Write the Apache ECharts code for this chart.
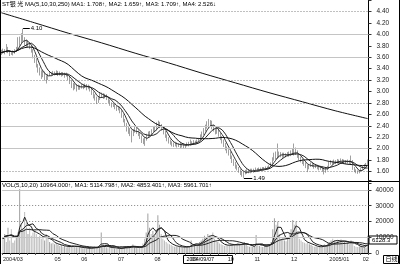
<!DOCTYPE html>
<html><head><meta charset="utf-8">
<script src="https://cdn.jsdelivr.net/npm/echarts@6/dist/echarts.min.js"></script>
<style>html,body{margin:0;padding:0;background:#fff}#c{width:400px;height:264px}</style>
</head><body><div id="c"></div>
<script>
const months = ['2004/03','04','05','06','07','08','09','10','11','12','2005/01','02'];
const monthDays = [10,21,16,22,22,22,22,16,22,23,20,4];
const monthLabelShown = [true,false,true,true,true,true,true,true,true,true,true,true];
// [open, close, low, high]
const ohlc = [
[3.70,3.68,3.64,3.73],[3.68,3.72,3.66,3.75],[3.72,3.69,3.65,3.74],[3.69,3.76,3.68,3.83],[3.76,3.70,3.67,3.78],
[3.70,3.66,3.62,3.72],[3.66,3.69,3.64,3.71],[3.69,3.67,3.63,3.72],[3.67,3.71,3.66,3.74],[3.71,3.74,3.69,3.78],
[3.74,3.90,3.73,3.95],[3.90,3.86,3.80,3.96],[3.86,3.97,3.84,4.02],[3.97,3.92,3.88,4.10],[3.92,3.84,3.80,3.95],
[3.84,3.88,3.78,3.91],[3.88,3.82,3.77,3.90],[3.82,3.79,3.74,3.86],[3.79,3.72,3.68,3.81],[3.72,3.62,3.58,3.74],
[3.62,3.55,3.50,3.64],[3.55,3.45,3.42,3.58],[3.45,3.38,3.33,3.48],[3.38,3.34,3.28,3.42],[3.34,3.28,3.22,3.37],
[3.28,3.33,3.25,3.36],[3.33,3.25,3.19,3.35],[3.25,3.22,3.14,3.28],[3.22,3.29,3.20,3.31],[3.29,3.32,3.27,3.35],
[3.32,3.30,3.27,3.34],
[3.30,3.33,3.28,3.36],[3.33,3.31,3.28,3.35],[3.31,3.34,3.29,3.37],[3.34,3.30,3.27,3.36],[3.30,3.32,3.28,3.35],
[3.32,3.29,3.26,3.34],[3.29,3.31,3.27,3.34],[3.31,3.28,3.24,3.33],[3.28,3.30,3.26,3.33],[3.30,3.24,3.20,3.31],
[3.24,3.18,3.13,3.26],[3.18,3.12,3.06,3.20],[3.12,3.08,3.02,3.15],[3.08,3.11,3.04,3.14],[3.11,3.06,3.00,3.13],
[3.06,3.09,3.03,3.12],
[3.09,3.07,3.03,3.11],[3.07,3.10,3.05,3.13],[3.10,3.08,3.04,3.12],[3.08,3.11,3.06,3.14],[3.11,3.07,3.02,3.13],
[3.07,3.09,3.04,3.12],[3.09,3.04,3.00,3.10],[3.04,2.98,2.94,3.06],[2.98,2.93,2.88,3.00],[2.93,2.89,2.84,2.95],
[2.89,2.84,2.78,2.91],[2.84,2.88,2.80,2.90],[2.88,2.92,2.85,2.99],[2.92,2.95,2.89,2.98],[2.95,2.91,2.87,2.97],
[2.91,2.94,2.88,2.96],[2.94,2.89,2.85,2.95],[2.89,2.84,2.80,2.91],[2.84,2.79,2.75,2.86],[2.79,2.76,2.72,2.81],
[2.76,2.78,2.73,2.80],[2.78,2.73,2.69,2.80],
[2.73,2.70,2.66,2.75],[2.70,2.72,2.67,2.74],[2.72,2.66,2.62,2.73],[2.66,2.58,2.54,2.67],[2.58,2.50,2.46,2.60],
[2.50,2.43,2.38,2.52],[2.43,2.38,2.30,2.45],[2.38,2.33,2.26,2.40],[2.33,2.30,2.22,2.36],[2.30,2.25,2.11,2.32],
[2.25,2.31,2.22,2.34],[2.31,2.35,2.28,2.38],[2.35,2.30,2.26,2.37],[2.30,2.27,2.22,2.32],[2.27,2.21,2.17,2.29],
[2.21,2.16,2.10,2.23],[2.16,2.12,2.08,2.18],[2.12,2.18,2.05,2.20],[2.18,2.23,2.14,2.26],[2.23,2.27,2.20,2.30],
[2.27,2.25,2.21,2.31],[2.25,2.31,2.23,2.34],
[2.31,2.36,2.29,2.39],[2.36,2.34,2.30,2.40],[2.34,2.42,2.32,2.46],[2.42,2.45,2.38,2.49],[2.45,2.40,2.36,2.47],
[2.40,2.36,2.32,2.43],[2.36,2.29,2.25,2.38],[2.29,2.23,2.19,2.31],[2.23,2.18,2.13,2.25],[2.18,2.14,2.09,2.20],
[2.14,2.11,2.07,2.16],[2.11,2.09,2.04,2.13],[2.09,2.07,2.03,2.11],[2.07,2.09,2.04,2.12],[2.09,2.06,2.02,2.11],
[2.06,2.08,2.03,2.10],[2.08,2.05,2.01,2.10],[2.05,2.07,2.02,2.09],[2.07,2.04,2.00,2.09],[2.04,2.06,2.01,2.08],
[2.06,2.09,2.04,2.11],[2.09,2.07,2.04,2.12],
[2.07,2.11,2.05,2.16],[2.11,2.09,2.06,2.13],[2.09,2.12,2.07,2.15],[2.12,2.10,2.07,2.14],[2.10,2.13,2.08,2.16],
[2.13,2.16,2.11,2.19],[2.16,2.22,2.14,2.25],[2.22,2.27,2.19,2.30],[2.27,2.33,2.24,2.36],[2.33,2.38,2.30,2.42],
[2.38,2.44,2.35,2.48],[2.44,2.41,2.36,2.52],[2.41,2.46,2.38,2.50],[2.46,2.40,2.34,2.49],[2.40,2.35,2.30,2.42],
[2.35,2.30,2.25,2.37],[2.30,2.33,2.26,2.36],[2.33,2.26,2.21,2.35],[2.26,2.20,2.15,2.28],[2.20,2.14,2.09,2.22],
[2.14,2.08,2.03,2.16],[2.08,2.02,1.97,2.10],
[2.02,1.97,1.92,2.04],[1.97,1.93,1.88,1.99],[1.93,1.86,1.82,1.95],[1.86,1.80,1.75,1.88],[1.80,1.75,1.70,1.82],
[1.75,1.70,1.65,1.77],[1.70,1.66,1.62,1.72],[1.66,1.62,1.58,1.68],[1.62,1.58,1.54,1.64],[1.58,1.55,1.51,1.61],
[1.55,1.58,1.49,1.60],[1.58,1.61,1.55,1.63],[1.61,1.59,1.56,1.64],[1.59,1.62,1.57,1.64],[1.62,1.60,1.57,1.65],
[1.60,1.63,1.58,1.65],
[1.63,1.61,1.58,1.65],[1.61,1.64,1.59,1.67],[1.64,1.62,1.60,1.66],[1.62,1.65,1.60,1.67],[1.65,1.63,1.61,1.67],
[1.63,1.66,1.62,1.68],[1.66,1.64,1.62,1.68],[1.64,1.67,1.63,1.69],[1.67,1.66,1.63,1.69],[1.66,1.69,1.64,1.71],
[1.69,1.74,1.67,1.76],[1.74,1.82,1.72,1.85],[1.82,1.88,1.79,1.93],[1.88,1.85,1.81,1.95],[1.85,1.92,1.82,2.09],
[1.92,1.88,1.84,1.95],[1.88,1.91,1.85,1.94],[1.91,1.87,1.84,1.93],[1.87,1.90,1.85,1.93],[1.90,1.88,1.85,1.92],
[1.88,1.91,1.86,1.94],[1.91,1.89,1.86,1.95],
[1.89,1.93,1.87,1.97],[1.93,1.96,1.90,2.00],[1.96,1.92,1.88,2.09],[1.92,1.95,1.89,2.02],[1.95,1.88,1.84,1.97],
[1.88,1.84,1.80,1.90],[1.84,1.80,1.76,1.86],[1.80,1.77,1.73,1.82],[1.77,1.74,1.70,1.79],[1.74,1.70,1.66,1.76],
[1.70,1.66,1.59,1.72],[1.66,1.70,1.64,1.73],[1.70,1.73,1.68,1.76],[1.73,1.71,1.68,1.75],[1.71,1.68,1.65,1.73],
[1.68,1.70,1.66,1.72],[1.70,1.67,1.64,1.72],[1.67,1.65,1.62,1.69],[1.65,1.68,1.63,1.70],[1.68,1.64,1.60,1.69],
[1.64,1.60,1.55,1.66],[1.60,1.64,1.58,1.66],[1.64,1.68,1.62,1.70],
[1.68,1.74,1.67,1.77],[1.74,1.77,1.72,1.80],[1.77,1.75,1.72,1.79],[1.75,1.78,1.73,1.81],[1.78,1.76,1.73,1.80],
[1.76,1.79,1.74,1.82],[1.79,1.77,1.74,1.81],[1.77,1.80,1.75,1.83],[1.80,1.77,1.74,1.82],[1.77,1.79,1.75,1.81],
[1.79,1.76,1.73,1.80],[1.76,1.78,1.74,1.81],[1.78,1.75,1.72,1.80],[1.75,1.79,1.73,1.88],[1.79,1.66,1.63,1.80],
[1.66,1.62,1.59,1.68],[1.62,1.60,1.57,1.64],[1.60,1.58,1.56,1.62],[1.58,1.61,1.57,1.63],[1.61,1.64,1.60,1.66],
[1.64,1.68,1.63,1.70],[1.68,1.71,1.66,1.73],[1.71,1.73,1.69,1.75],[1.73,1.78,1.72,1.81]
];
const volume = [
9000,12000,7000,16000,8000,15000,6500,8000,11000,13000,
42000,18000,15000,26000,19000,12000,16000,11000,13000,14000,
12000,10000,11000,9000,10000,8000,12000,9000,7000,6000,6500,
5500,6000,5000,4500,5000,4000,4500,3500,4000,3800,4500,5000,4200,3600,4000,3500,
3200,3000,3500,2800,3000,3300,2600,3800,4200,3600,4000,3500,13000,5000,4200,3500,3000,3600,3800,3200,2800,3000,
2800,2600,3200,3500,4000,4500,3800,4200,3600,5500,4000,3500,3000,3200,3800,6000,9000,13000,25000,16000,12000,14000,
11000,15000,24000,18000,12000,9000,8000,7000,6000,5500,5000,4500,4000,4200,3800,4000,3600,3500,4000,3800,4200,4500,
8000,5000,5500,6000,5000,7000,8000,9000,11000,10000,12000,11000,10000,13000,9000,8000,7000,6000,5500,5000,4500,5000,
5000,4500,5500,6000,5000,5500,6000,5000,5500,6500,7000,5000,4500,4000,4200,3800,
4000,11400,5000,4500,4000,3800,4200,4500,5000,5500,7000,15000,22000,18000,20000,12000,9000,10000,8000,7500,9000,12000,
15000,21000,18000,20000,12000,9000,8000,7000,6500,6000,7000,5500,5000,4500,4000,4200,3800,4000,3500,4500,5500,5000,6000,
7000,8000,9000,8000,7000,8000,6500,8500,7500,7000,6000,6500,5500,8000,6500,4500,4000,3800,4200,4000,
3500,3600,3500,10964
];
const ma250 = [[0,4.377],[20,4.20],[40,4.02],[60,3.85],[80,3.67],[100,3.50],[120,3.32],[140,3.15],[160,2.98],[180,2.82],[200,2.66],[219,2.526]];
const priceSolid = [4.0,3.6,2.4,2.0];
const priceDotted = [4.4,3.2,2.8,1.6];
const volSolid = [40000,10000];
const volDotted = [30000,20000];
const priceTitle = 'ST银 光 MA(5,10,30,250) MA1: 1.708↑, MA2: 1.659↑, MA3: 1.709↑, MA4: 2.526↓';
const volTitle = 'VOL(5,10,20) 10964.000↑, MA1: 5114.798↑, MA2: 4853.401↑, MA3: 5961.701↑';
const highMark = {idx:13, end:17, value:4.10, label:'4.10'};
const lowMark = {idx:145, end:150, value:1.49, label:'1.49'};
const cursorDate = '2004/09/07';
const cursorVol = '6128.3';
const periodLabel = '日线';

const cats = [], catLabel = [], isMonthStart = [];
months.forEach((m, mi) => {
  for (let d = 0; d < monthDays[mi]; d++) {
    cats.push(m + '#' + d);
    isMonthStart.push(d === 0 && monthLabelShown[mi]);
    catLabel.push(d === 0 ? m : '');
  }
});
const closes = ohlc.map(r => r[1]);
function ma(arr, n) {
  return arr.map((_, i) => { const s = Math.max(0, i - n + 1); let sum = 0; for (let k = s; k <= i; k++) sum += arr[k]; return +(sum / (i - s + 1)).toFixed(3); });
}
const FONT = 'Liberation Sans, Arial, Noto Sans CJK SC, sans-serif';
const PW = 368;
const gridLine = (v, solid) => ({ yAxis: v, lineStyle: solid ? { type: 'solid', color: '#c4c4c4', width: 1 } : { type: [1, 2], color: '#808080', width: 1 }, label: { show: false } });
const annot = (m) => [
  { coord: [m.idx, m.value], lineStyle: { type: 'solid', color: '#000', width: 1 }, label: { show: true, position: 'end', formatter: m.label, fontSize: 6, color: '#000', fontFamily: FONT, distance: 1 } },
  { coord: [m.end, m.value] }
];
const volColors = ohlc.map(r => r[1] >= r[0] ? '#a0a0a0' : '#bdbdbd');

const chart = echarts.init(document.getElementById('c'), null, { renderer: 'canvas' });
chart.setOption({
  animation: false,
  backgroundColor: '#fff',
  grid: [
    { left: 0.5, width: PW, top: -2.6, height: 185.6 },
    { left: 0.5, width: PW, top: 180.5, height: 72.5 }
  ],
  xAxis: [
    { type: 'category', data: cats, gridIndex: 0, boundaryGap: true, axisLine: { show: false }, axisTick: { show: false }, axisLabel: { show: false } },
    { type: 'category', data: cats, gridIndex: 1, boundaryGap: true,
      axisLine: { show: true, lineStyle: { color: '#000', width: 1 } },
      axisTick: { show: true, length: 2, interval: (i) => i % 5 === 0, lineStyle: { color: '#555' } },
      axisLabel: { show: true, interval: (i) => isMonthStart[i], formatter: (v, i) => catLabel[i], fontSize: 5.5, color: '#222', fontFamily: FONT, align: 'left', margin: 4 } }
  ],
  yAxis: [
    { type: 'value', gridIndex: 0, position: 'right', min: 1.4, max: 4.6, interval: 0.2, scale: true,
      axisLine: { show: true, lineStyle: { color: '#000' } }, axisTick: { show: true, length: 3, lineStyle: { color: '#333' } },
      axisLabel: { fontSize: 6.5, color: '#222', fontFamily: FONT, margin: 8, formatter: v => (v < 1.59 || v > 4.41) ? '' : v.toFixed(2) },
      splitLine: { show: false } },
    { type: 'value', gridIndex: 1, position: 'right', min: 0, max: 46000, interval: 10000,
      axisLine: { show: true, lineStyle: { color: '#000' } }, axisTick: { show: true, length: 3, lineStyle: { color: '#333' } },
      axisLabel: { fontSize: 6.5, color: '#222', fontFamily: FONT, margin: 7, formatter: v => v % 10000 === 0 ? String(v) : '' },
      splitLine: { show: false } }
  ],
  series: [
    { type: 'candlestick', xAxisIndex: 0, yAxisIndex: 0, data: ohlc, barWidth: 1,
      itemStyle: { color: '#b0b0b0', color0: '#a0a0a0', borderColor: '#a0a0a0', borderColor0: '#a0a0a0', borderWidth: 1 },
      markLine: { silent: true, symbol: 'none', animation: false,
        data: [...priceSolid.map(v => gridLine(v, true)), ...priceDotted.map(v => gridLine(v, false)), annot(highMark), annot(lowMark)] } },
    { type: 'line', name: 'MA5', data: ma(closes, 5), symbol: 'none', lineStyle: { color: '#333', width: 1 }, z: 3 },
    { type: 'line', name: 'MA10', data: ma(closes, 10), symbol: 'none', lineStyle: { color: '#222', width: 1 }, z: 3 },
    { type: 'line', name: 'MA30', data: ma(closes, 30), symbol: 'none', lineStyle: { color: '#111', width: 1 }, z: 3 },
    { type: 'line', name: 'MA250', data: ma250, symbol: 'none', smooth: 0.3, lineStyle: { color: '#111', width: 1 }, z: 3 },
    { type: 'bar', xAxisIndex: 1, yAxisIndex: 1, data: volume.map((v, i) => ({ value: v, itemStyle: { color: volColors[i] } })), barWidth: 1,
      markLine: { silent: true, symbol: 'none', animation: false,
        data: [...volSolid.map(v => gridLine(v, true)), ...volDotted.map(v => gridLine(v, false))] } },
    { type: 'line', xAxisIndex: 1, yAxisIndex: 1, data: ma(volume, 5), symbol: 'none', lineStyle: { color: '#222', width: 1 }, z: 3 },
    { type: 'line', xAxisIndex: 1, yAxisIndex: 1, data: ma(volume, 10), symbol: 'none', lineStyle: { color: '#222', width: 1 }, z: 3 },
    { type: 'line', xAxisIndex: 1, yAxisIndex: 1, data: ma(volume, 20), symbol: 'none', lineStyle: { color: '#222', width: 1 }, z: 3 }
  ],
  graphic: [
    { type: 'line', shape: { x1: 0, y1: 181.5, x2: 400, y2: 181.5 }, style: { stroke: '#000', lineWidth: 1 }, z: 50 },
    { type: 'line', shape: { x1: 0.5, y1: 0, x2: 0.5, y2: 264 }, style: { stroke: '#000', lineWidth: 1 }, z: 50 },
    { type: 'line', shape: { x1: 399.5, y1: 0, x2: 399.5, y2: 264 }, style: { stroke: '#000', lineWidth: 1 }, z: 50 },
    { type: 'text', left: 2, top: 1, style: { text: priceTitle, fontSize: 6, fill: '#000', fontFamily: FONT }, z: 50 },
    { type: 'rect', shape: { x: 1, y: 182, width: PW - 1, height: 7 }, style: { fill: '#fff' }, z: 49 },
    { type: 'text', left: 2, top: 182.5, style: { text: volTitle, fontSize: 6, fill: '#000', fontFamily: FONT }, z: 50 },
    { type: 'group', left: 183, top: 255, z: 60, children: [
      { type: 'rect', shape: { x: 0, y: 0, width: 49, height: 8 }, style: { fill: '#fff', stroke: '#000', lineWidth: 1 } },
      { type: 'text', x: 3, y: 1.5, style: { text: cursorDate, fontSize: 5.5, fill: '#000', fontFamily: FONT } } ] },
    { type: 'group', left: 368.5, top: 235.5, z: 60, children: [
      { type: 'rect', shape: { x: 0, y: 0, width: 28, height: 8 }, style: { fill: '#fff', stroke: '#000', lineWidth: 1 } },
      { type: 'text', x: 3, y: 1, style: { text: cursorVol, fontSize: 6, fill: '#000', fontFamily: FONT } } ] },
    { type: 'group', left: 383, top: 255, z: 60, children: [
      { type: 'rect', shape: { x: 0, y: 0, width: 15, height: 8 }, style: { fill: '#fff', stroke: '#000', lineWidth: 1 } },
      { type: 'text', x: 2, y: 0.5, style: { text: periodLabel, fontSize: 6, fill: '#000', fontFamily: FONT } } ] }
  ]
});
</script></body></html>
